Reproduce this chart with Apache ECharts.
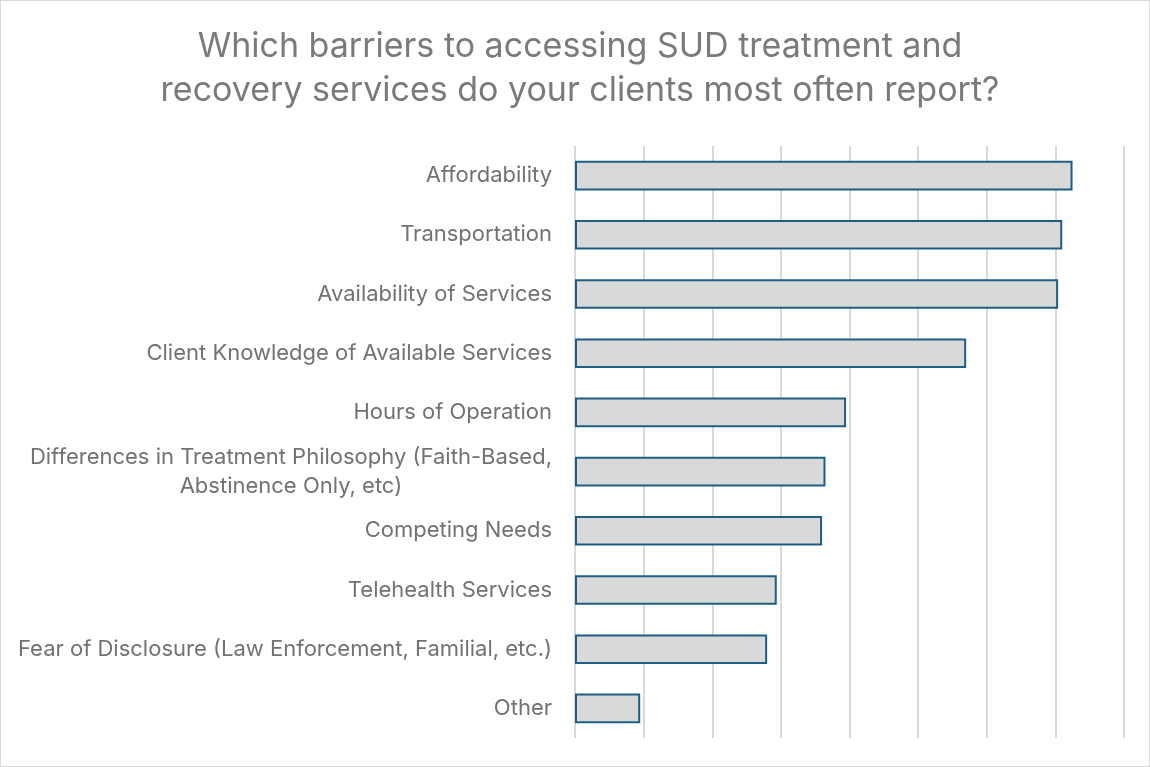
<!DOCTYPE html>
<html>
<head>
<meta charset="utf-8">
<script src="https://cdn.jsdelivr.net/npm/echarts@6/dist/echarts.min.js"></script>
<style>
  html, body { margin: 0; padding: 0; background: #fff; }
  #chart { width: 1148px; height: 765px; border: 1px solid #d9d9d9; }
</style>
</head>
<body>
<div id="chart"></div>
<script>
// Barriers reported by clients, top to bottom as listed
const categories = [
  'Affordability',
  'Transportation',
  'Availability of Services',
  'Client Knowledge of Available Services',
  'Hours of Operation',
  'Differences in Treatment Philosophy (Faith-Based,\nAbstinence Only, etc)',
  'Competing Needs',
  'Telehealth Services',
  'Fear of Disclosure (Law Enforcement, Familial, etc.)',
  'Other'
];
const values = [72.5, 71, 70.4, 57, 39.5, 36.5, 36, 29.4, 28, 9.5];

const FONT = 'Inter';
const LABEL_SIZE = 22;

// Width of the widest line of a label, so wrapped lines can be centred within it
function textWidth(str, size) {
  const ctx = document.createElement('canvas').getContext('2d');
  ctx.font = size + 'px ' + FONT;
  return Math.max.apply(null, str.split('\n').map(s => ctx.measureText(s).width));
}

const chart = echarts.init(document.getElementById('chart'));
chart.setOption({
  animation: false,
  title: {
    text: 'Which barriers to accessing SUD treatment and\nrecovery services do your clients most often report?',
    left: 574,
    top: 19,
    textAlign: 'center',
    textStyle: {
      fontFamily: FONT,
      fontSize: 34,
      fontWeight: 'normal',
      color: '#7a7a7a',
      lineHeight: 44
    }
  },
  grid: { left: 574, right: 25, top: 145, bottom: 28, containLabel: false },
  xAxis: {
    type: 'value',
    min: 0,
    max: 80,
    interval: 10,
    axisLabel: { show: false },
    axisLine: { show: false },
    axisTick: { show: false },
    splitLine: { lineStyle: { color: '#d9d9d9', width: 2 } }
  },
  yAxis: {
    type: 'category',
    inverse: true,
    data: categories,
    axisLine: { show: false },
    axisTick: { show: false },
    axisLabel: {
      fontFamily: FONT,
      fontSize: LABEL_SIZE,
      color: '#727272',
      margin: 23,
      lineHeight: 29,
      align: 'right',
      formatter: function (v) {
        if (v.indexOf('\n') < 0) return v;
        return v.split('\n').map(s => '{c|' + s + '}').join('\n');
      },
      rich: {
        c: {
          fontFamily: FONT,
          fontSize: LABEL_SIZE,
          color: '#727272',
          lineHeight: 29,
          align: 'center',
          width: textWidth(categories[5], LABEL_SIZE)
        }
      }
    }
  },
  series: [{
    type: 'bar',
    data: values,
    barWidth: '50%',
    itemStyle: {
      color: '#d9d9d9',
      borderColor: '#1d5f82',
      borderWidth: 2
    }
  }]
});
</script>
</body>
</html>
